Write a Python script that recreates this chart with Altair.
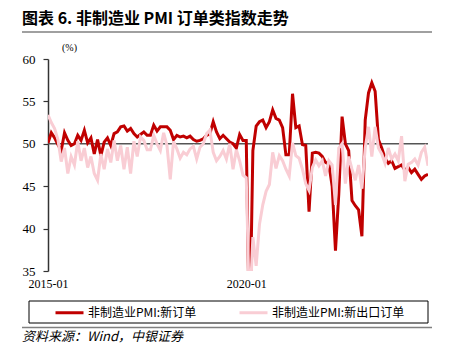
import altair as alt
import pandas as pd

# ---------------- data ----------------
months = pd.date_range("2015-01-01", periods=116, freq="MS").strftime("%Y-%m").tolist()

new_orders = [
    50.1, 51.3, 50.7, 49.9, 49.2, 51.3, 50.4, 49.8, 50.0, 51.0,
    50.4, 51.6, 50.1, 50.7, 48.8, 50.5, 48.6, 50.2, 50.7, 49.8,
    51.2, 51.4, 52.0, 52.1, 51.5, 51.8, 51.2, 50.8, 51.1, 51.4,
    51.0, 51.0, 52.2, 51.5, 52.0, 52.0, 52.0, 51.6, 50.5, 51.0,
    50.8, 50.9, 50.7, 50.9, 50.5, 50.3, 50.4, 50.6, 51.0, 51.2,
    52.6, 51.4, 50.6, 51.0, 50.6, 50.2, 50.0, 49.5, 51.1, 50.4,
    50.4, 26.5, 49.2, 52.1, 52.6, 52.8, 51.9, 52.6, 54.0, 53.0,
    52.8, 51.9, 48.7, 48.7, 55.9, 51.9, 52.1, 49.9, 49.8, 42.0,
    48.9, 49.0, 48.9, 48.5, 47.8, 47.6, 45.0, 37.4, 44.1, 53.2,
    50.0, 49.2, 43.3, 42.7, 42.2, 39.1, 52.8, 56.0, 57.2, 56.2,
    50.5, 49.5, 48.3, 47.7, 48.0, 47.1, 47.3, 47.5, 46.9, 47.2,
    46.6, 47.0, 46.4, 45.8, 46.2, 46.4,
]

new_export_orders = [
    53.4, 52.5, 51.8, 50.5, 47.9, 49.5, 46.5, 48.5, 47.5, 50.3,
    48.0, 49.5, 47.2, 48.5, 46.5, 45.7, 48.8, 47.0, 49.4, 47.8,
    50.4, 48.0, 49.8, 47.0, 49.6, 46.5, 50.3, 48.5, 50.8, 50.4,
    49.3, 49.3, 51.0, 50.0, 49.2, 51.3, 49.8, 45.8, 50.3, 49.4,
    48.3, 49.0, 48.7, 49.4, 49.7, 48.2, 49.6, 50.0, 51.2, 51.6,
    49.0, 48.0, 48.5, 49.2, 48.2, 50.0, 47.0, 49.3, 48.0, 46.3,
    46.0, 30.0, 39.0, 35.6, 40.5, 42.8, 44.4, 45.2, 49.0, 47.1,
    48.6, 48.0, 47.0, 46.2, 50.1, 48.6, 48.3, 47.0, 45.3, 44.5,
    47.2, 48.1, 47.4, 48.0, 46.2, 48.0, 47.5, 42.8, 49.5, 50.0,
    45.3, 48.5, 47.0, 45.7, 47.5, 44.7, 49.5, 52.0, 48.5, 52.0,
    49.5, 48.8, 47.7, 49.5, 48.2, 48.8, 48.0, 50.9, 45.6, 47.6,
    47.8, 48.2, 47.5, 49.0, 49.6, 47.4,
]

series_names = ["非制造业PMI:新订单", "非制造业PMI:新出口订单"]
series_colors = ["#C00000", "#F9CDD4"]
y_ticks = [35, 40, 45, 50, 55, 60]
x_tick_labels = ["2015-01", "2020-01"]
ref_value = 50

title_text = "图表 6. 非制造业 PMI 订单类指数走势"
unit_text = "(%)"
source_text = "资料来源：Wind，中银证券"

# ---------------- tables ----------------
n = len(months)
df = pd.DataFrame({
    "idx": list(range(n)) * 2,
    "month": months * 2,
    "series": [series_names[0]] * n + [series_names[1]] * n,
    "value": new_orders + new_export_orders,
})

x_tick_pos = [months.index(l) for l in x_tick_labels]
label_expr = " : ".join(
    f"datum.value == {p} ? '{l}'" for p, l in zip(x_tick_pos, x_tick_labels)
) + " : ''"

W, H = 380, 212

x_enc = alt.X(
    "idx:Q",
    scale=alt.Scale(domain=[0, n - 1], nice=False, zero=False),
    axis=alt.Axis(
        values=x_tick_pos, labelExpr=label_expr, ticks=False, tickSize=0,
        domain=False, grid=False, title=None, labelFont="Liberation Serif",
        labelFontSize=12, labelColor="black", labelPadding=7,
        labelFlush=False, labelOverlap=False,
    ),
)
y_enc = alt.Y(
    "value:Q",
    scale=alt.Scale(domain=[35, 60], nice=False, zero=False),
    axis=alt.Axis(
        values=y_ticks, title=None, grid=False, tickSize=5, tickColor="#333333",
        domainColor="#333333", domainWidth=1.5, tickWidth=1.2,
        labelFont="Liberation Serif", labelFontSize=13, labelColor="black",
        labelPadding=8,
    ),
)
color_enc = alt.Color(
    "series:N",
    scale=alt.Scale(domain=series_names, range=series_colors),
    legend=alt.Legend(
        title=None, orient="none", legendX=6, legendY=238,
        direction="horizontal", symbolType="stroke", symbolSize=784,
        symbolStrokeWidth=3, labelFont="Noto Sans CJK SC", labelFontSize=12,
        labelColor="black", columnPadding=36, labelOffset=3, padding=0,
    ),
)

base = alt.Chart(df)
red_line = base.transform_filter(
    alt.datum.series == series_names[0]
).mark_line(strokeWidth=3, clip=True).encode(x=x_enc, y=y_enc, color=color_enc)
pink_line = base.transform_filter(
    alt.datum.series == series_names[1]
).mark_line(strokeWidth=3, clip=True).encode(x=x_enc, y=y_enc, color=color_enc)

ref_rule = alt.Chart(pd.DataFrame({"value": [ref_value]})).mark_rule(
    color="#555555", strokeWidth=1.5
).encode(y=y_enc)

one = pd.DataFrame({"a": [0]})

title = alt.Chart(pd.DataFrame({"t": [title_text]})).mark_text(
    align="left", baseline="middle", font="Noto Sans CJK SC", fontSize=16,
    fontWeight="bold", color="black",
).encode(x=alt.value(-26), y=alt.value(-40), text="t:N")

title_rule = alt.Chart(one).mark_rule(color="#808080", strokeWidth=1.5).encode(
    x=alt.value(-26), x2=alt.value(384), y=alt.value(-27)
)

unit = alt.Chart(pd.DataFrame({"t": [unit_text]})).mark_text(
    align="left", baseline="middle", font="Liberation Serif", fontSize=10,
    color="black",
).encode(x=alt.value(14), y=alt.value(-11), text="t:N")

legend_box = alt.Chart(one).mark_rect(
    fill="white", fillOpacity=0, stroke="black", strokeWidth=1
).encode(x=alt.value(-19), x2=alt.value(380), y=alt.value(242), y2=alt.value(264))

bottom_rule = alt.Chart(one).mark_rule(color="#808080", strokeWidth=1.5).encode(
    x=alt.value(-26), x2=alt.value(384), y=alt.value(268.5)
)

source = alt.Chart(pd.DataFrame({"t": [source_text]})).mark_text(
    align="left", baseline="middle", font="Noto Sans CJK SC", fontSize=13,
    fontStyle="italic", color="black",
).encode(x=alt.value(-26), y=alt.value(278), text="t:N")

chart = alt.layer(
    ref_rule, red_line, pink_line, title, title_rule, unit, legend_box,
    bottom_rule, source,
).properties(
    width=W, height=H,
    autosize=alt.AutoSizeParams(type="none"),
    padding={"left": 40, "top": 51, "right": 21, "bottom": 80},
).configure_view(stroke=None)

chart.save("out.html", embed_options={"renderer": "svg", "actions": False})
